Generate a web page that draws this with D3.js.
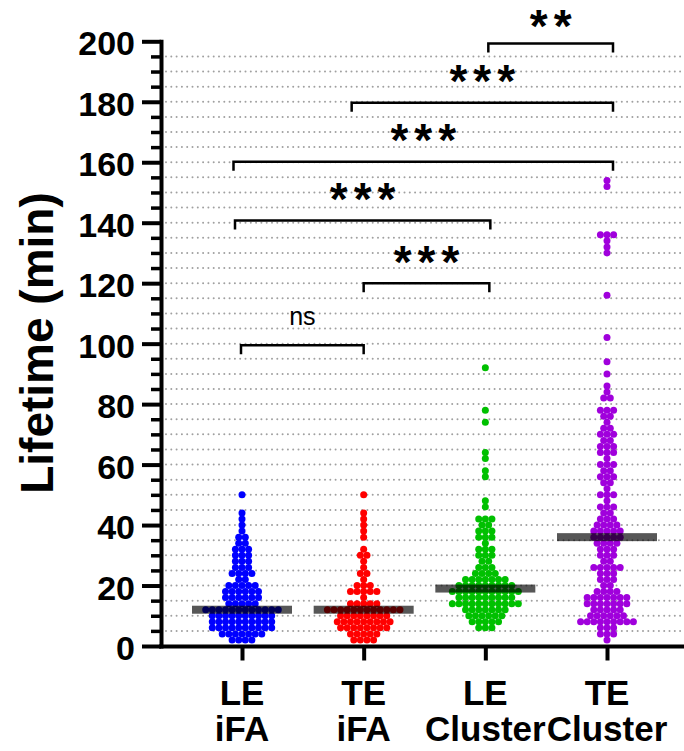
<!DOCTYPE html>
<html>
<head>
<meta charset="utf-8">
<script src="https://cdn.jsdelivr.net/npm/d3@7"></script>
<style>
  body { margin: 0; background: #fff; }
  svg text { font-family: 'Liberation Sans', Arial, sans-serif; }
</style>
</head>
<body>
<div id="chart"></div>
<script>
// Groups and labels (two lines each)
const groups = ['LE iFA', 'TE iFA', 'LE Cluster', 'TE Cluster'];
const groupLines = [['LE', 'iFA'], ['TE', 'iFA'], ['LE', 'Cluster'], ['TE', 'Cluster']];
const groupColors = ['#0000ff', '#ff0000', '#00c000', '#a000dc'];

// Lifetime values (min)
const leIFA = [
  2, 2, 2, 2,
  4, 4, 4, 4, 4, 4, 4,
  6, 6, 6, 6, 6, 6, 6, 6, 6, 6,
  8, 8, 8, 8, 8, 8, 8, 8, 8, 8,
  10, 10, 10, 10, 10, 10, 10, 10, 10, 10,
  12, 12, 12, 12, 12, 12, 12, 12, 12, 12, 12, 12,
  14, 14, 14, 14, 14,
  16, 16, 16, 16, 16, 16,
  18, 18, 18, 18, 18, 18,
  20, 20, 20, 20, 20,
  22, 22, 24, 24, 24, 24, 26, 26, 26, 28, 28, 28,
  30, 30, 30, 32, 32, 32, 34, 34, 36, 36, 38, 40, 42, 44, 50,
];
const teIFA = [
  2, 2, 2, 2,
  4, 4, 4, 4, 4,
  6, 6, 6, 6, 6, 6, 6, 6,
  8, 8, 8, 8, 8, 8, 8, 8, 8,
  10, 10, 10, 10, 10, 10, 10, 10,
  12, 12, 12, 12, 12, 12, 12, 12, 12, 12, 12, 12,
  14, 14, 14, 14, 14,
  16,
  18, 18, 18, 18, 18,
  20, 20, 20,
  22, 24, 24, 26, 28, 30, 30, 32, 36, 38, 40, 42, 44, 50,
];
const leCluster = [
  6, 6, 6,
  8, 8, 8, 8, 8,
  10, 10, 10, 10, 10, 10,
  12, 12, 12, 12, 12, 12, 12,
  14, 14, 14, 14, 14, 14, 14, 14, 14, 14, 14,
  16, 16, 16, 16, 16, 16, 16, 16, 16,
  18, 18, 18, 18, 18, 18, 18, 18, 18, 18, 18,
  20, 20, 20, 20, 20, 20, 20, 20, 20,
  22, 22, 22, 22, 22, 22, 22,
  24, 24, 24, 24,
  26, 26, 26, 28, 28, 30, 30, 30, 32, 32, 32, 34,
  36, 36, 36, 38, 38, 38, 40, 40, 42, 42, 42,
  46, 48, 56, 58, 62, 64, 74, 78, 92,
];
const teCluster = [
  2, 4, 4, 4, 6, 6, 6,
  8, 8, 8, 8, 8, 8, 8, 8, 8,
  10, 10, 10, 10, 10, 10,
  12, 12, 12, 12, 12,
  14, 14, 14, 14, 14, 14, 14,
  16, 16, 16, 16, 16, 16, 16,
  18, 18, 18, 18, 20, 20, 22, 22, 22, 24, 24, 24,
  26, 26, 26, 26, 26, 28, 28, 30, 30, 30, 32, 32, 32,
  34, 34, 34, 34, 36, 36, 36, 36, 36, 38, 38, 38, 38, 38,
  40, 40, 40, 40, 42, 42, 42, 44, 44, 46, 46, 46, 48,
  50, 50, 50, 52, 54, 54, 56, 56, 56, 58, 58, 60, 60, 60,
  62, 64, 64, 64, 66, 66, 66, 68, 68, 70, 70, 70, 72, 72,
  74, 76, 76, 78, 78, 78, 82, 82, 84, 86, 90, 94, 102, 116,
  130, 132, 134, 136, 136, 136, 152, 154,
];
const seriesValues = [leIFA, teIFA, leCluster, teCluster];

// Y ticks
const majorTicks = [0, 20, 40, 60, 80, 100, 120, 140, 160, 180, 200];
const minorTicks = d3.range(0, 201, 5).filter((v) => v % 20 !== 0);
const gridValues = d3.range(5, 200, 5);

// Significance comparisons: [from group, to group, label]
const comparisons = [
  [2, 3, '**'],
  [1, 3, '***'],
  [0, 3, '***'],
  [0, 2, '***'],
  [1, 2, '***'],
  [0, 1, 'ns'],
];
const comparisonLevels = [199.3, 179.7, 160.2, 140.7, 120, 99.5];

// Layout
const width = 684;
const height = 751;
const svg = d3
  .select('#chart')
  .append('svg')
  .attr('width', width)
  .attr('height', height);

const y = d3.scaleLinear().domain([0, 200]).range([646, 41.3]);
const x = d3.scalePoint().domain(groups).range([242, 607]);
const axisX = 161;

// Dotted horizontal grid
svg
  .append('g')
  .selectAll('line')
  .data(gridValues)
  .enter()
  .append('line')
  .attr('x1', 166)
  .attr('x2', width)
  .attr('y1', (d) => y(d))
  .attr('y2', (d) => y(d))
  .attr('stroke', '#a0a0a0')
  .attr('stroke-width', 2)
  .attr('stroke-linecap', 'round')
  .attr('stroke-dasharray', '0,5.3');

// Points: stack equal values in rows, centred on the group
const dotStep = 6.6;
const dotR = 3.5;
seriesValues.forEach(function (vals, gi) {
  const rows = d3.group(vals, (v) => v);
  const pts = [];
  rows.forEach(function (list, v) {
    list.forEach(function (_, i) {
      pts.push({ v: v, dx: (i - (list.length - 1) / 2) * dotStep });
    });
  });
  svg
    .append('g')
    .selectAll('circle')
    .data(pts)
    .enter()
    .append('circle')
    .attr('cx', (d) => x(groups[gi]) + d.dx)
    .attr('cy', (d) => y(d.v))
    .attr('r', dotR)
    .attr('fill', groupColors[gi]);
});

// Median bars
svg
  .append('g')
  .selectAll('rect')
  .data(seriesValues)
  .enter()
  .append('rect')
  .attr('x', (d, i) => x(groups[i]) - 50)
  .attr('y', (d) => y(d3.median(d)) - 4)
  .attr('width', 100)
  .attr('height', 8)
  .attr('fill', '#000')
  .attr('fill-opacity', 0.66);

// Y axis, minor ticks
svg
  .append('g')
  .attr('transform', `translate(${axisX},0)`)
  .call(d3.axisLeft(y).tickValues(minorTicks).tickSize(10).tickFormat(''))
  .call((g) => g.select('.domain').remove())
  .selectAll('line')
  .attr('stroke-width', 3.5);

// Y axis, major ticks and labels
const yAxis = svg
  .append('g')
  .attr('transform', `translate(${axisX},0)`)
  .call(
    d3.axisLeft(y).tickValues(majorTicks).tickSize(19).tickSizeOuter(0).tickPadding(7),
  );
yAxis.select('.domain').attr('stroke-width', 4).attr('stroke-linecap', 'square');
yAxis.selectAll('.tick line').attr('stroke-width', 4);
yAxis
  .selectAll('.tick text')
  .attr('dy', '0.4em')
  .style('font-size', '34px')
  .style('font-weight', 'bold')
  .attr('fill', '#000');

// Y title
svg
  .append('text')
  .attr('transform', 'translate(53,343) rotate(-90)')
  .attr('text-anchor', 'middle')
  .style('font-size', '46px')
  .style('font-weight', 'bold')
  .text('Lifetime (min)');

// X axis
svg
  .append('line')
  .attr('x1', axisX - 2)
  .attr('x2', width)
  .attr('y1', 646.5)
  .attr('y2', 646.5)
  .attr('stroke', '#000')
  .attr('stroke-width', 4);

const xAxis = svg
  .append('g')
  .attr('transform', 'translate(0,646.5)')
  .call(d3.axisBottom(x).tickSize(14).tickSizeOuter(0).tickFormat(''));
xAxis.select('.domain').remove();
xAxis.selectAll('.tick line').attr('stroke-width', 4);

// Two-line group labels, one text per line
const labelRows = [0, 1];
labelRows.forEach(function (row) {
  svg
    .append('g')
    .selectAll('text')
    .data(groupLines)
    .enter()
    .append('text')
    .attr('x', (d, i) => x(groups[i]))
    .attr('y', 705 + row * 36)
    .attr('text-anchor', 'middle')
    .style('font-size', '35px')
    .style('font-weight', 'bold')
    .text((d) => d[row]);
});

// Significance brackets
const nudges = [[3, 6], [-12, 6], [-8.5, 6], [-7, 5], [0, 4], [-1, 0]];
const starSize = 46;
comparisons.forEach(function (c, i) {
  const x1 = x(groups[c[0]]) + nudges[i][0];
  const x2 = x(groups[c[1]]) + nudges[i][1];
  const yb = y(comparisonLevels[i]);
  svg
    .append('path')
    .attr('d', `M${x1},${yb + 9}V${yb}H${x2}V${yb + 9}`)
    .attr('fill', 'none')
    .attr('stroke', '#000')
    .attr('stroke-width', 2.5);
  const isNs = c[2] === 'ns';
  // star glyphs sit high in the em box; keep the top one inside the frame
  const starBase = i === 0 ? 41.7 : yb - 25.5 + 0.44 * starSize;
  svg
    .append('text')
    .attr('x', (x1 + x2) / 2 + (isNs ? 0 : 3))
    .attr('y', isNs ? yb - 20 : starBase)
    .attr('text-anchor', 'middle')
    .style('font-size', isNs ? '25px' : starSize + 'px')
    .style('font-weight', isNs ? 'normal' : 'bold')
    .style('letter-spacing', isNs ? '0px' : '6px')
    .text(c[2]);
});
</script>
</body>
</html>
